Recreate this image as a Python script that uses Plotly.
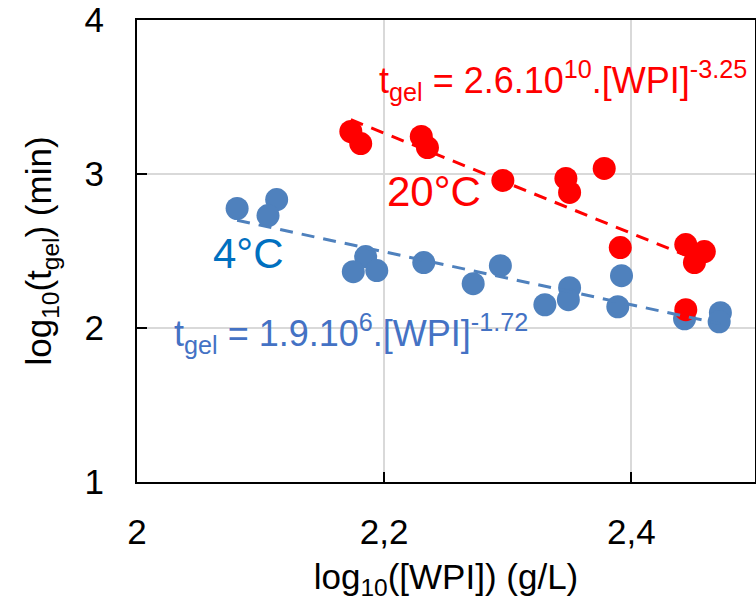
import math
import plotly.graph_objects as go

# Gelation time vs WPI concentration (log-log), two storage temperatures
wpi_20 = [2.173, 2.181, 2.230, 2.235, 2.296, 2.347, 2.350, 2.378, 2.391, 2.444, 2.459, 2.451, 2.444]
tgel_20 = [3.276, 3.198, 3.244, 3.172, 2.958, 2.971, 2.880, 3.036, 2.522, 2.542, 2.496, 2.425, 2.119]

wpi_4 = [2.081, 2.113, 2.106, 2.185, 2.175, 2.194, 2.232, 2.272, 2.294, 2.330, 2.350, 2.349,
         2.392, 2.389, 2.443, 2.472, 2.471]
tgel_4 = [2.776, 2.834, 2.730, 2.464, 2.366, 2.373, 2.425, 2.288, 2.405, 2.151, 2.262, 2.184,
          2.340, 2.138, 2.060, 2.099, 2.040]

# Power-law fits: t_gel = A * [WPI]^b  ->  log t = log A + b * log[WPI]
fit_20 = {"A": 2.6e10, "b": -3.25}
fit_4 = {"A": 1.9e6, "b": -1.72}

x_ticks = [2.0, 2.2, 2.4]
x_ticktext = ["2", "2,2", "2,4"]
y_ticks = [1, 2, 3, 4]
y_ticktext = ["1", "2", "3", "4"]

RED = "#FF0000"
BLUE = "#4F81BD"
FONT = "Arial, 'Liberation Sans', sans-serif"


def fit_line(xs, fit):
    x0, x1 = min(xs), max(xs)
    la = math.log10(fit["A"])
    return [x0, x1], [la + fit["b"] * x0, la + fit["b"] * x1]


fig = go.Figure()

fig.add_trace(go.Scatter(x=wpi_4, y=tgel_4, mode="markers",
                         marker=dict(color=BLUE, size=23, line=dict(width=0)),
                         showlegend=False))
fig.add_trace(go.Scatter(x=wpi_20, y=tgel_20, mode="markers",
                         marker=dict(color=RED, size=23, line=dict(width=0)),
                         showlegend=False))

lx, ly = fit_line(wpi_4, fit_4)
fig.add_trace(go.Scatter(x=lx, y=ly, mode="lines",
                         line=dict(color=BLUE, width=3, dash="13px,9px"),
                         showlegend=False))
lx, ly = fit_line(wpi_20, fit_20)
fig.add_trace(go.Scatter(x=lx, y=ly, mode="lines",
                         line=dict(color=RED, width=3, dash="13px,9px"),
                         showlegend=False))

axis_common = dict(
    showline=True, linecolor="black", linewidth=2, mirror=True,
    ticks="inside", ticklen=10, tickwidth=2, tickcolor="black",
    showgrid=True, gridcolor="#D9D9D9", gridwidth=2,
    zeroline=False, automargin=False,
    tickfont=dict(family=FONT, size=35, color="black"),
)

fig.update_xaxes(range=[2, 2.5], tickvals=x_ticks, ticktext=x_ticktext,
                 ticklabelstandoff=18,
                 title=dict(text="log<sub>10</sub>([WPI]) (g/L)",
                            font=dict(family=FONT, size=35, color="black"),
                            standoff=14),
                 **axis_common)
fig.update_yaxes(range=[1, 4], tickvals=y_ticks, ticktext=y_ticktext,
                 ticklabelstandoff=24,
                 title=dict(text="log<sub>10</sub>(t<sub>gel</sub>) (min)",
                            font=dict(family=FONT, size=35, color="black"),
                            standoff=22),
                 **axis_common)

ann_font = dict(family=FONT, size=36)
fig.add_annotation(xref="paper", yref="paper", x=0.388, y=0.868, xanchor="left", yanchor="middle",
                   text="t<sub>gel</sub> = 2.6.10<sup>10</sup>.[WPI]<sup>-3.25</sup>",
                   showarrow=False, font=dict(ann_font, color=RED))
fig.add_annotation(xref="paper", yref="paper", x=0.481, y=0.628, xanchor="center", yanchor="middle",
                   text="20°C", showarrow=False, font=dict(family=FONT, size=42, color=RED))
fig.add_annotation(xref="paper", yref="paper", x=0.181, y=0.494, xanchor="center", yanchor="middle",
                   text="4°C", showarrow=False, font=dict(family=FONT, size=42, color="#0070C0"))
fig.add_annotation(xref="paper", yref="paper", x=0.056, y=0.322, xanchor="left", yanchor="middle",
                   text="t<sub>gel</sub> = 1.9.10<sup>6</sup>.[WPI]<sup>-1.72</sup>",
                   showarrow=False, font=dict(ann_font, color="#4472C4"))

fig.update_layout(
    width=756, height=601,
    margin=dict(l=137, r=1, t=20, b=119),
    paper_bgcolor="white", plot_bgcolor="white",
    font=dict(family=FONT),
)

fig.write_html("out.html")
